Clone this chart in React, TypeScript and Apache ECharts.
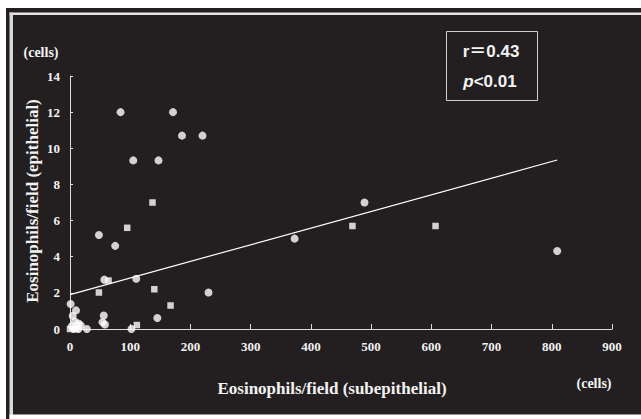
import React, { useEffect, useRef } from "react";
import * as echarts from "echarts";

// Circle markers: [subepithelial, epithelial]
const circlePoints: [number, number][] = [
  [84, 12], [171, 12], [186, 10.7], [220, 10.7], [105, 9.33], [147, 9.33],
  [489, 7.0], [48, 5.2], [75, 4.6], [373, 5.0], [809, 4.32], [57, 2.73],
  [110, 2.78], [230, 2.02], [1, 1.38], [10, 1.03], [4.5, 0.73], [56, 0.75],
  [145, 0.61], [8, 0.42], [14, 0.3], [54, 0.37], [58, 0.25], [102, 0],
  [28, 0], [3, 0.15], [14, 0], [6, 0], [18, 0.2],
];
// Square markers
const squarePoints: [number, number][] = [
  [137, 7.0], [95, 5.6], [469, 5.7], [607, 5.7], [64, 2.68], [48, 2.02],
  [140, 2.2], [167, 1.3], [111, 0.22], [0, 0], [10, 0],
];
// Regression line end points
const regressionLine: [number, number][] = [
  [0, 1.9],
  [809, 9.35],
];

const xMin = 0, xMax = 900, xStep = 100;
const yMin = 0, yMax = 14, yStep = 2;

const xName = "Eosinophils/field (subepithelial)";
const yName = "Eosinophils/field (epithelial)";
const unitLabel = "(cells)";
const statR = "r＝0.43";
const statP = "<0.01";

const BG = "#231f20";
const FG = "#f2f2f2";
const SERIF = "'Liberation Serif', 'Times New Roman', serif";
const SANS = "'Liberation Sans', Arial, 'Noto Sans CJK JP', sans-serif";

export default function App() {
  const ref = useRef<HTMLDivElement>(null);
  useEffect(() => {
    if (!ref.current) return;
    const chart = echarts.init(ref.current, undefined, { renderer: "svg" });
    const axisCommon = {
      type: "value" as const,
      splitLine: { show: false },
      axisLine: { show: true, lineStyle: { color: "#dcdcdc", width: 1 } },
      axisLabel: {
        color: FG,
        fontFamily: SERIF,
        fontWeight: "bold" as const,
        fontSize: 13,
      },
    };
    chart.setOption({
      animation: false,
      backgroundColor: BG,
      grid: { left: 70, right: 29, top: 76, bottom: 90, containLabel: false },
      xAxis: {
        ...axisCommon,
        min: xMin,
        max: xMax,
        interval: xStep,
        axisTick: { show: true, inside: true, length: 5, lineStyle: { color: "#dcdcdc" } },
        axisLabel: { ...axisCommon.axisLabel, margin: 11 },
      },
      yAxis: {
        ...axisCommon,
        min: yMin,
        max: yMax,
        interval: yStep,
        axisTick: { show: true, inside: true, length: 3, lineStyle: { color: "#dcdcdc" } },
        axisLabel: { ...axisCommon.axisLabel, margin: 10 },
      },
      series: [
        {
          type: "line",
          data: regressionLine,
          symbol: "none",
          lineStyle: { color: "#ffffff", width: 1.2 },
          z: 1,
        },
        {
          type: "scatter",
          data: circlePoints,
          symbol: "circle",
          symbolSize: 8,
          itemStyle: { color: "#ffffff" },
          z: 3,
        },
        {
          type: "scatter",
          data: squarePoints,
          symbol: "rect",
          symbolSize: 6.5,
          itemStyle: { color: "#ffffff" },
          z: 3,
        },
      ],
      graphic: [
        { type: "rect", shape: { x: 0, y: 0, width: 641, height: 8 }, style: { fill: "#ffffff" } },
        { type: "rect", shape: { x: 0, y: 0, width: 6, height: 419 }, style: { fill: "#ffffff" } },
        { type: "rect", shape: { x: 9.5, y: 12.5, width: 632, height: 2.5 }, style: { fill: "#e4e4e4" } },
        { type: "rect", shape: { x: 9.5, y: 12.5, width: 3.5, height: 407 }, style: { fill: "#d8d8d8" } },
        { type: "rect", shape: { x: 9.5, y: 414.5, width: 632, height: 5 }, style: { fill: "#ffffff" } },
        {
          type: "rect",
          shape: { x: 446.5, y: 31.5, width: 91, height: 69 },
          style: { fill: "none", stroke: "#cfcfcf", lineWidth: 1 },
        },
        {
          type: "text",
          x: 491,
          y: 51,
          style: {
            text: statR,
            fill: FG,
            font: `bold 17px ${SANS}`,
            align: "center",
            verticalAlign: "middle",
          },
        },
        {
          type: "text",
          x: 490,
          y: 81,
          style: {
            text: `{i|p}{n|${statP}}`,
            align: "center",
            verticalAlign: "middle",
            rich: {
              i: { fill: FG, fontFamily: SANS, fontSize: 17, fontWeight: "bold", fontStyle: "italic" },
              n: { fill: FG, fontFamily: SANS, fontSize: 17, fontWeight: "bold" },
            },
          },
        },
        {
          type: "text",
          x: 41,
          y: 52,
          style: { text: unitLabel, fill: FG, font: `bold 14px ${SERIF}`, align: "center", verticalAlign: "middle" },
        },
        {
          type: "text",
          x: 594,
          y: 383,
          style: { text: unitLabel, fill: FG, font: `bold 14px ${SERIF}`, align: "center", verticalAlign: "middle" },
        },
        {
          type: "text",
          x: 332,
          y: 388,
          style: { text: xName, fill: FG, font: `bold 17px ${SERIF}`, align: "center", verticalAlign: "middle" },
        },
        {
          type: "text",
          x: 32,
          y: 201,
          rotation: Math.PI / 2,
          style: { text: yName, fill: FG, font: `bold 17px ${SERIF}`, align: "center", verticalAlign: "middle" },
        },
      ],
    });
    return () => chart.dispose();
  }, []);
  return (
    <div
      ref={ref}
      style={{ position: "absolute", left: 0, top: 0, width: 641, height: 419 }}
    />
  );
}
